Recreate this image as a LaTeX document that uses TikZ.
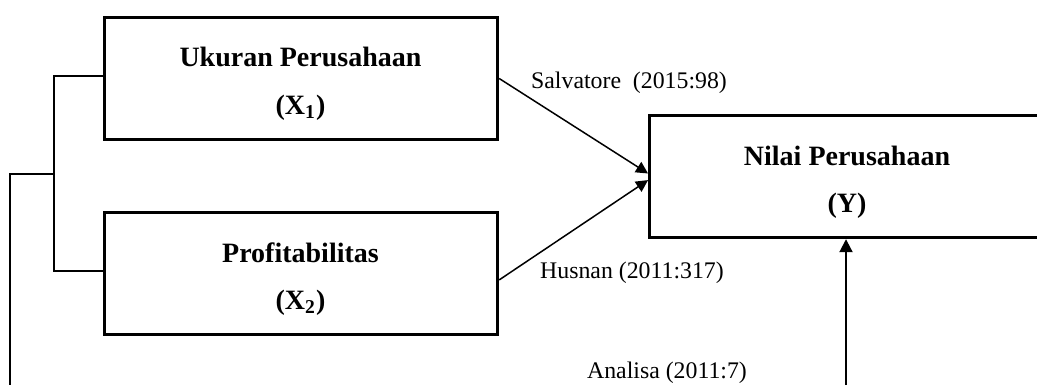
\documentclass[tikz,border=0pt]{standalone}
\usepackage{fontspec}
\setmainfont{Liberation Serif}
\usetikzlibrary{arrows.meta}
\begin{document}
\begin{tikzpicture}[x=0.5pt,y=-0.5pt,
  box/.style={draw, line width=1.7pt, inner sep=0pt, minimum width=#1, minimum height=61pt},
  title/.style={anchor=base, inner sep=0pt, font=\fontsize{14}{16}\selectfont\bfseries},
  cite/.style={anchor=base, inner sep=0pt, font=\fontsize{11.9}{14}\selectfont},
  link/.style={line width=0.7pt},
  arr/.style={line width=0.75pt, -{Triangle[length=6pt,width=6pt]}},
  varr/.style={line width=1pt, -{Triangle[length=6.5pt,width=6.5pt]}}
]
\useasboundingbox (0,0) rectangle (1037,385);
% boxes
\node[box=196.5pt] (x1) at (301,78.5) {};
\node[box=196.5pt] (x2) at (301,273.5) {};
\node[box=205pt] (y) at (854.75,176.5) {};
% box texts
\node[title] (x1a) at (300.5,67) {Ukuran Perusahaan};
\node[title] (x1b) at (300.5,114) {(X\textsubscript{1})};
\node[title] (x2a) at (300.5,262) {Profitabilitas};
\node[title] (x2b) at (300.5,309) {(X\textsubscript{2})};
\node[title] (ya) at (847,165) {Nilai Perusahaan};
\node[title] (yb) at (847,212) {(Y)};
% citations
\node[cite] (c1) at (629,89) {Salvatore\ \ (2015:98)};
\node[cite] (c2) at (632,278) {Husnan (2011:317)};
\node[cite] (c3) at (667,378) {Analisa (2011:7)};
% arrows to Y
\draw[arr] (x1.east) -- ([yshift=1.5pt]y.west);
\draw[arr] ([yshift=-3.2pt]x2.east) -- ([yshift=-1.8pt]y.west);
\coordinate (vb) at (846,385);
\draw[varr] (vb) -- (vb |- y.south);
% left bracket
\coordinate (j) at (54,174);
\coordinate (e) at (10,385);
\draw[link] ([yshift=1.2pt]x1.west) -| (j) |- ([yshift=1.2pt]x2.west);
\draw[link] (j) -| (e);
\end{tikzpicture}
\end{document}
